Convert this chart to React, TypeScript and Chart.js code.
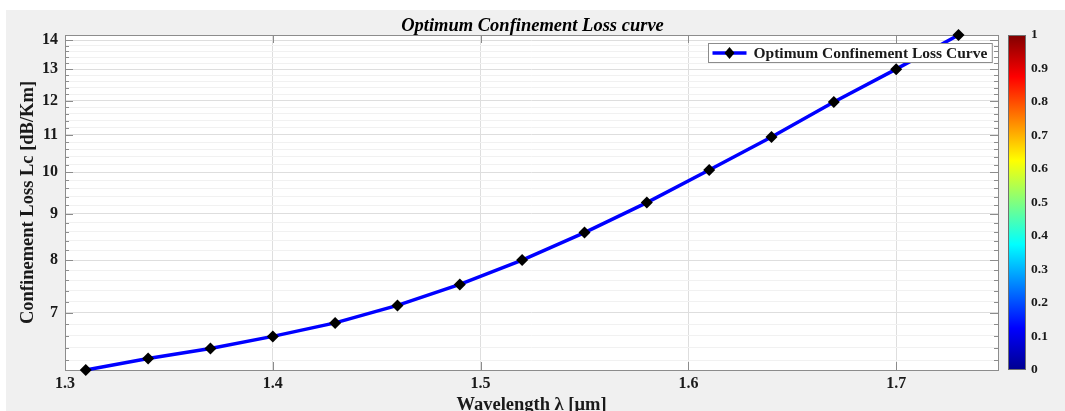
import React, { useEffect, useRef } from 'react';
import { Chart, registerables } from 'chart.js';

Chart.register(...registerables);

const wavelengths = [1.31, 1.34, 1.37, 1.4, 1.43, 1.46, 1.49, 1.52, 1.55, 1.58, 1.61, 1.64, 1.67, 1.7, 1.73];
const confinementLoss = [6.05, 6.23, 6.39, 6.59, 6.82, 7.13, 7.52, 8.0, 8.58, 9.26, 10.06, 10.94, 11.96, 13.0, 14.18];
const xTicks = [1.3, 1.4, 1.5, 1.6, 1.7];
const yMajorTicks = [7, 8, 9, 10, 11, 12, 13, 14];
const yMinorTicks = [6.2, 6.4, 6.6, 6.8, 7.2, 7.4, 7.6, 7.8, 8.2, 8.4, 8.6, 8.8, 9.2, 9.4, 9.6, 9.8, 10.2, 10.4, 10.6, 10.8, 11.2, 11.4, 11.6, 11.8, 12.2, 12.4, 12.6, 12.8, 13.2, 13.4, 13.6, 13.8];
const colorbarTicks = [0, 0.1, 0.2, 0.3, 0.4, 0.5, 0.6, 0.7, 0.8, 0.9, 1];
const seriesLabel = 'Optimum Confinement Loss Curve';
const chartTitle = 'Optimum Confinement Loss curve';
const xTitle = 'Wavelength \u03bb [\u03bcm]';
const yTitle = 'Confinement Loss Lc [dB/Km]';

const SERIF = "'Liberation Serif', 'Times New Roman', serif";
const TEXT = '#1a1a1a';
const BLUE = '#0000ff';

const isMajor = (v: number) => yMajorTicks.some((m) => Math.abs(m - v) < 1e-6);

const backgroundPlugin = {
  id: 'bg',
  beforeDraw(chart: any) {
    const { ctx, width, height, chartArea } = chart;
    ctx.save();
    ctx.fillStyle = '#ffffff';
    ctx.fillRect(0, 0, width, height);
    ctx.fillStyle = '#f0f0f0';
    ctx.fillRect(6, 10, width - 6, height - 10);
    ctx.fillStyle = '#ffffff';
    ctx.fillRect(chartArea.left, chartArea.top, chartArea.right - chartArea.left, chartArea.bottom - chartArea.top);
    ctx.restore();
  },
};

const framePlugin = {
  id: 'frame',
  beforeDatasetsDraw(chart: any) {
    const { ctx, chartArea } = chart;
    const { left, right, top, bottom } = chartArea;
    const ys = chart.scales.y;
    const xs = chart.scales.x;
    ctx.save();
    ctx.strokeStyle = '#8c8c8c';
    ctx.lineWidth = 1;
    ctx.beginPath();
    ys.ticks.forEach((t: any) => {
      const y = Math.round(ys.getPixelForValue(t.value)) + 0.5;
      const len = isMajor(t.value) ? 8 : 4;
      ctx.moveTo(left, y);
      ctx.lineTo(left + len, y);
      ctx.moveTo(right, y);
      ctx.lineTo(right - len, y);
    });
    xTicks.forEach((v) => {
      const x = Math.round(xs.getPixelForValue(v)) + 0.5;
      ctx.moveTo(x, bottom);
      ctx.lineTo(x, bottom - 8);
      ctx.moveTo(x, top);
      ctx.lineTo(x, top + 8);
    });
    ctx.stroke();
    ctx.strokeRect(Math.round(left) + 0.5, Math.round(top) + 0.5, Math.round(right - left), Math.round(bottom - top));
    ctx.restore();

    // colorbar
    const cb = chart.scales.yc;
    const cx = right + 10;
    const cw = 18;
    const g = ctx.createLinearGradient(0, cb.bottom, 0, cb.top);
    g.addColorStop(0, '#00008f');
    g.addColorStop(0.125, '#0000ff');
    g.addColorStop(0.375, '#00ffff');
    g.addColorStop(0.625, '#ffff00');
    g.addColorStop(0.875, '#ff0000');
    g.addColorStop(1, '#800000');
    ctx.save();
    ctx.fillStyle = g;
    ctx.fillRect(cx, cb.top, cw, cb.bottom - cb.top);
    ctx.strokeStyle = '#707070';
    ctx.strokeRect(cx + 0.5, cb.top + 0.5, cw - 1, cb.bottom - cb.top - 1);
    ctx.restore();
  },
};

const legendPlugin = {
  id: 'customLegend',
  afterDatasetsDraw(chart: any) {
    const { ctx, chartArea } = chart;
    ctx.save();
    ctx.font = `bold 15.5px ${SERIF}`;
    const tw = ctx.measureText(seriesLabel).width;
    const h = 19;
    const sample = 34;
    const w = 4 + sample + 7 + tw + 5;
    const x = Math.round(chartArea.right - 6 - w) + 0.5;
    const y = Math.round(chartArea.top + 8) + 0.5;
    ctx.fillStyle = '#ffffff';
    ctx.fillRect(x, y, w, h);
    ctx.strokeStyle = '#8c8c8c';
    ctx.lineWidth = 1;
    ctx.strokeRect(x, y, w, h);
    const cy = y + h / 2;
    ctx.strokeStyle = BLUE;
    ctx.lineWidth = 3.5;
    ctx.beginPath();
    ctx.moveTo(x + 4, cy);
    ctx.lineTo(x + 4 + sample, cy);
    ctx.stroke();
    const mx = x + 4 + sample / 2;
    ctx.fillStyle = '#000';
    ctx.beginPath();
    ctx.moveTo(mx, cy - 6);
    ctx.lineTo(mx + 5, cy);
    ctx.lineTo(mx, cy + 6);
    ctx.lineTo(mx - 5, cy);
    ctx.closePath();
    ctx.fill();
    ctx.fillStyle = TEXT;
    ctx.textBaseline = 'middle';
    ctx.textAlign = 'left';
    ctx.fillText(seriesLabel, x + 4 + sample + 7, cy + 1);
    ctx.restore();
  },
};

export default function App() {
  const ref = useRef<HTMLCanvasElement>(null);

  useEffect(() => {
    document.body.style.margin = '0';
    document.body.style.background = '#ffffff';
    const canvas = ref.current!;
    const chart = new Chart(canvas, {
      type: 'line',
      data: {
        datasets: [
          {
            label: seriesLabel,
            data: wavelengths.map((x, i) => ({ x, y: confinementLoss[i] })),
            borderColor: BLUE,
            borderWidth: 3.5,
            backgroundColor: '#000',
            pointStyle: 'rectRot',
            pointRadius: 6,
            pointBackgroundColor: '#000',
            pointBorderColor: '#000',
            pointBorderWidth: 0,
            tension: 0,
            clip: false as any,
          },
        ],
      },
      options: {
        animation: false,
        responsive: false,
        maintainAspectRatio: false,
        layout: { padding: 0 },
        plugins: {
          legend: { display: false },
          tooltip: { enabled: false },
          title: {
            display: true,
            text: chartTitle,
            color: '#000',
            font: { family: SERIF, size: 18.5, weight: 'bold', style: 'italic' },
            padding: { top: 15, bottom: -2.2 },
          },
        },
        scales: {
          x: {
            type: 'linear',
            min: 1.3,
            max: 1.749,
            afterBuildTicks: (s: any) => {
              s.ticks = xTicks.map((v) => ({ value: v }));
            },
            afterFit: (s: any) => {
              s.height = 41;
            },
            ticks: {
              autoSkip: false,
              padding: 4,
              color: TEXT,
              font: { family: SERIF, size: 16, weight: 'bold' },
              callback: (v: any) => Number(v).toFixed(1),
            },
            grid: {
              drawTicks: false,
              color: (c: any) => (c.tick && Math.abs(c.tick.value - 1.3) < 1e-6 ? 'rgba(0,0,0,0)' : '#dedede'),
            },
            border: { display: false },
            title: {
              display: true,
              text: xTitle,
              color: TEXT,
              font: { family: SERIF, size: 18.5, weight: 'bold' },
              padding: { top: 0, bottom: -5 },
            },
          },
          y: {
            type: 'logarithmic',
            position: 'left',
            min: 6.05,
            max: 14.18,
            afterBuildTicks: (s: any) => {
              const vals = [...yMinorTicks, ...yMajorTicks].sort((a, b) => a - b);
              s.ticks = vals.map((v) => ({ value: v, major: isMajor(v) }));
            },
            afterFit: (s: any) => {
              s.width = 65;
              s.paddingTop = 0;
              s.paddingBottom = 0;
            },
            ticks: {
              autoSkip: false,
              padding: 7,
              color: TEXT,
              font: { family: SERIF, size: 16, weight: 'bold' },
              callback: (v: any) => (isMajor(Number(v)) ? String(Math.round(Number(v))) : ''),
            },
            grid: {
              drawTicks: false,
              color: (c: any) => (c.tick && isMajor(c.tick.value) ? '#dedede' : '#f1f1f1'),
            },
            border: { display: false },
            title: {
              display: true,
              text: yTitle,
              color: TEXT,
              font: { family: SERIF, size: 18.5, weight: 'bold' },
              padding: { top: 17, bottom: 0 },
            },
          },
          yc: {
            type: 'linear',
            position: 'right',
            min: 0,
            max: 1,
            afterBuildTicks: (s: any) => {
              s.ticks = colorbarTicks.map((v) => ({ value: v }));
            },
            afterFit: (s: any) => {
              s.width = 67;
              s.paddingTop = 0;
              s.paddingBottom = 0;
            },
            ticks: {
              autoSkip: false,
              padding: 33,
              color: TEXT,
              font: { family: SERIF, size: 13.5, weight: 'bold' },
              callback: (v: any) => String(Math.round(Number(v) * 10) / 10),
            },
            grid: { display: false, drawTicks: false },
            border: { display: false },
          },
        },
      },
      plugins: [backgroundPlugin, framePlugin, legendPlugin],
    });
    return () => chart.destroy();
  }, []);

  return <canvas ref={ref} width={1065} height={411} style={{ display: 'block', width: 1065, height: 411 }} />;
}
